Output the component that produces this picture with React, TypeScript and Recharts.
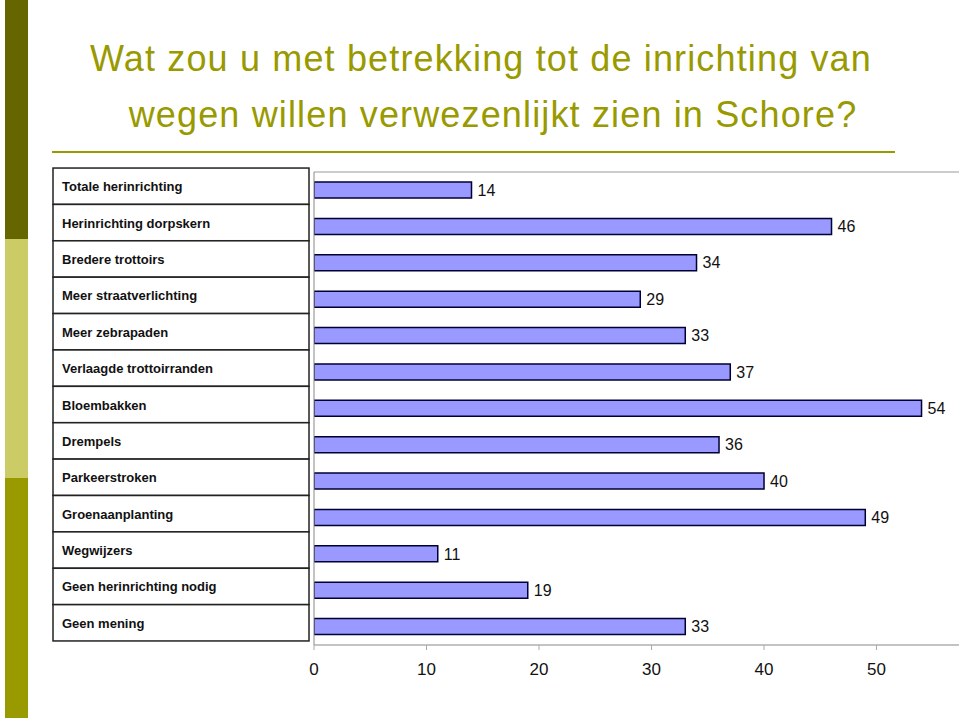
import { BarChart, Bar, XAxis, YAxis, LabelList, CartesianGrid } from 'recharts';

const categories = [
  'Totale herinrichting',
  'Herinrichting dorpskern',
  'Bredere trottoirs',
  'Meer straatverlichting',
  'Meer zebrapaden',
  'Verlaagde trottoirranden',
  'Bloembakken',
  'Drempels',
  'Parkeerstroken',
  'Groenaanplanting',
  'Wegwijzers',
  'Geen herinrichting nodig',
  'Geen mening',
];

const values = [14, 46, 34, 29, 33, 37, 54, 36, 40, 49, 11, 19, 33];

const xTicks = [0, 10, 20, 30, 40, 50];

const titleLines = [
  'Wat zou u met betrekking tot de inrichting van',
  'wegen willen verwezenlijkt zien in Schore?',
];

const data = categories.map((name, i) => ({ name, value: values[i] }));

const FONT = '"Liberation Sans", Arial, sans-serif';

// left table cell with the category name
function TableTick(props: any) {
  const { y, payload } = props;
  const rowH = 36.3;
  const top = y - rowH / 2 - 4;
  return (
    <g>
      <rect x={53} y={top} width={256} height={rowH} fill="#fff" stroke="#222" strokeWidth={1.5} />
      <text
        x={62}
        y={top + rowH / 2 + 5}
        fontSize={13}
        fontWeight="bold"
        fontFamily={FONT}
        fill="#111"
      >
        {payload.value}
      </text>
    </g>
  );
}

export default function App() {
  return (
    <div style={{ position: 'absolute', left: 0, top: 0, width: 959, height: 718, background: '#fff', overflow: 'hidden' }}>
      {/* side stripe */}
      <div style={{ position: 'absolute', left: 5, top: 0, width: 23, height: 239, background: '#666600' }} />
      <div style={{ position: 'absolute', left: 5, top: 239, width: 23, height: 239, background: '#cccc66' }} />
      <div style={{ position: 'absolute', left: 5, top: 478, width: 23, height: 240, background: '#999900' }} />

      {/* title */}
      {titleLines.map((line, i) => (
        <div
          key={i}
          style={{
            position: 'absolute',
            left: i * 12,
            width: 962,
            top: 38 + i * 56,
            textAlign: 'center',
            fontFamily: FONT,
            fontSize: 36,
            letterSpacing: 1.15,
            color: '#999900',
            whiteSpace: 'nowrap',
          }}
        >
          {line}
        </div>
      ))}
      <div style={{ position: 'absolute', left: 52, top: 151, width: 843, height: 2, background: '#999900' }} />

      <div style={{ position: 'absolute', left: 0, top: 0 }}>
        <BarChart
          width={959}
          height={718}
          data={data}
          layout="vertical"
          margin={{ top: 172, right: 0, left: 0, bottom: 0 }}
          barSize={16}
        >
          <CartesianGrid
            vertical={false}
            stroke="#999"
            horizontalCoordinatesGenerator={({ offset }: any) => [offset.top]}
          />
          <XAxis
            type="number"
            domain={[0, 57.33]}
            ticks={xTicks}
            allowDataOverflow
            axisLine={{ stroke: '#888' }}
            tickLine={{ stroke: '#aaa' }}
            tickSize={5}
            tickMargin={13}
            height={73}
            tick={{ fontSize: 17, fill: '#111', fontFamily: FONT }}
          />
          <YAxis
            type="category"
            dataKey="name"
            width={314}
            axisLine={{ stroke: '#888' }}
            tickLine={false}
            tick={<TableTick />}
          />
          <Bar dataKey="value" fill="#9999ff" stroke="#000033" strokeWidth={1.5} isAnimationActive={false}>
            <LabelList dataKey="value" position="right" offset={6} fontSize={16} fill="#111" fontFamily={FONT} />
          </Bar>
        </BarChart>
      </div>
    </div>
  );
}
